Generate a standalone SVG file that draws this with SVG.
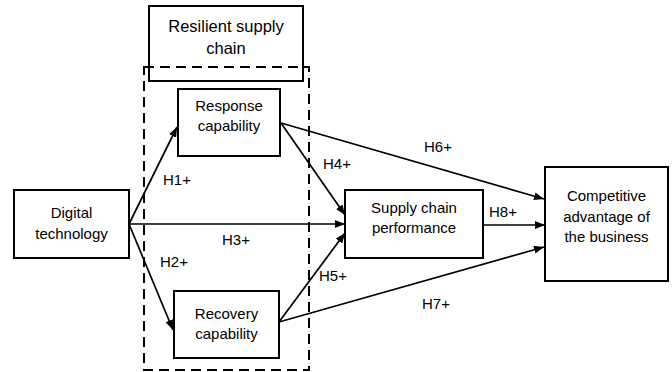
<svg xmlns="http://www.w3.org/2000/svg" width="672" height="372" viewBox="0 0 672 372">
<defs>
<marker id="arr" viewBox="0 0 10 8" refX="10" refY="4" markerWidth="10" markerHeight="8" markerUnits="userSpaceOnUse" orient="auto">
<path d="M0,0 L10,4 L0,8 Z" fill="#000"/>
</marker>
<style>
.box{fill:#fff;stroke:#000;stroke-width:2}
.dash{fill:none;stroke:#000;stroke-width:2;stroke-dasharray:10,6}
.t{font-family:"Liberation Sans",Arial,sans-serif;font-size:15px;fill:#000;text-anchor:middle}
.lbl{font-family:"Liberation Sans",Arial,sans-serif;font-size:15px;fill:#000}
.c{fill:none;stroke:#000;stroke-width:1.7;marker-end:url(#arr)}
</style>
</defs>
<rect width="672" height="372" fill="#fff"/>
<g id="resilient">
<rect class="box" x="149" y="6" width="154" height="75"/>
<text class="t" x="226" y="32" style="font-size:16.5px">Resilient supply</text>
<text class="t" x="226" y="54" style="font-size:16.5px">chain</text>
</g>
<g id="resilient-group">
<rect class="dash" x="144" y="67" width="165" height="303"/>
</g>
<g id="response">
<rect class="box" x="178" y="89" width="102" height="67"/>
<text class="t" x="229" y="111">Response</text>
<text class="t" x="229" y="131">capability</text>
</g>
<g id="digital">
<rect class="box" x="14" y="190" width="115" height="68"/>
<text class="t" x="71.5" y="218">Digital</text>
<text class="t" x="71.5" y="239">technology</text>
</g>
<g id="recovery">
<rect class="box" x="174" y="291" width="105" height="67"/>
<text class="t" x="226.5" y="319">Recovery</text>
<text class="t" x="226.5" y="339">capability</text>
</g>
<g id="performance">
<rect class="box" x="345" y="190" width="138" height="68"/>
<text class="t" x="414" y="213">Supply chain</text>
<text class="t" x="414" y="233">performance</text>
</g>
<g id="competitive">
<rect class="box" x="545" y="167" width="123" height="114"/>
<text class="t" x="606.5" y="201">Competitive</text>
<text class="t" x="606.5" y="222">advantage of</text>
<text class="t" x="606.5" y="242">the business</text>
</g>
<g id="connectors">
<line class="c" x1="129" y1="224" x2="177" y2="127"/>
<line class="c" x1="129" y1="224" x2="173" y2="330"/>
<line class="c" x1="129" y1="224" x2="345" y2="224"/>
<line class="c" x1="281" y1="123" x2="345" y2="215"/>
<line class="c" x1="279" y1="322" x2="345" y2="233"/>
<line class="c" x1="281" y1="123" x2="544" y2="199"/>
<line class="c" x1="279" y1="322" x2="544" y2="247"/>
<line class="c" x1="483" y1="225" x2="545" y2="225"/>
</g>
<g id="labels">
<text class="lbl" x="163" y="185">H1+</text>
<text class="lbl" x="160" y="267">H2+</text>
<text class="lbl" x="222" y="245">H3+</text>
<text class="lbl" x="323" y="169">H4+</text>
<text class="lbl" x="319" y="281">H5+</text>
<text class="lbl" x="424" y="152">H6+</text>
<text class="lbl" x="422" y="309">H7+</text>
<text class="lbl" x="489" y="217">H8+</text>
</g>
</svg>
